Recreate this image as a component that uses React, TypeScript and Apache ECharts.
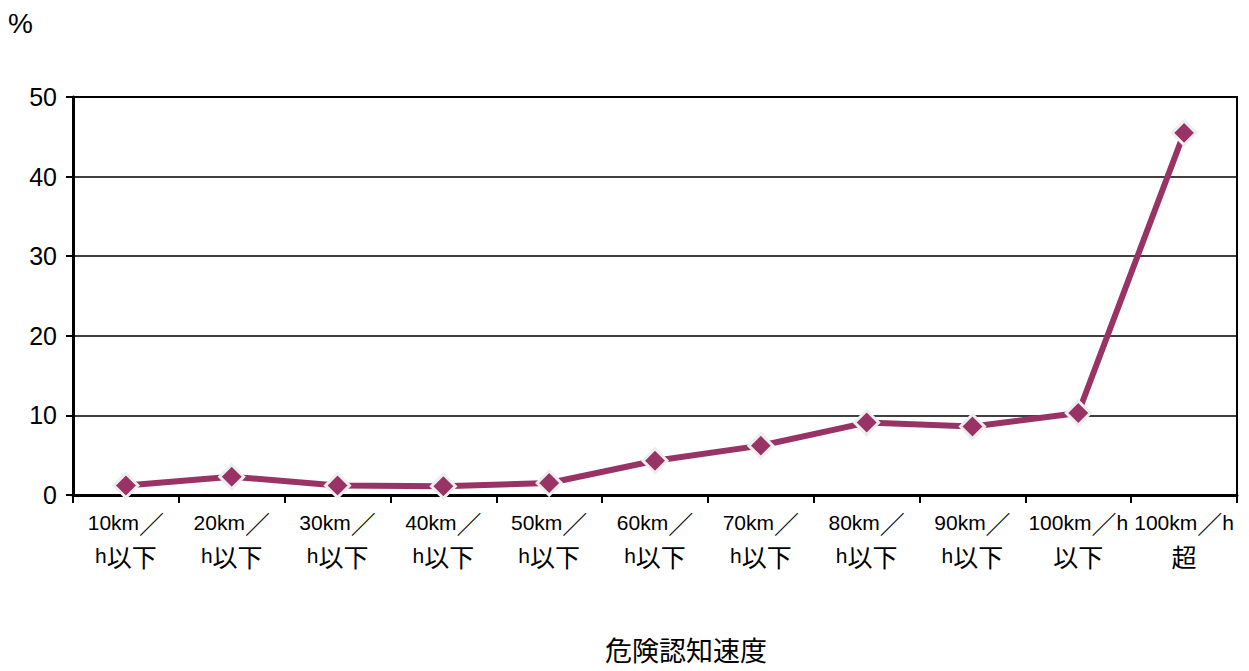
import React, { useEffect, useRef } from "react";
import * as echarts from "echarts";

const categories = [
  "10km／\nh以下",
  "20km／\nh以下",
  "30km／\nh以下",
  "40km／\nh以下",
  "50km／\nh以下",
  "60km／\nh以下",
  "70km／\nh以下",
  "80km／\nh以下",
  "90km／\nh以下",
  "100km／h\n以下",
  "100km／h\n超",
];
const values = [1.2, 2.3, 1.2, 1.1, 1.5, 4.3, 6.2, 9.1, 8.6, 10.3, 45.5];
const yTicks = { min: 0, max: 50, interval: 10 };
const yUnit = "%";
const xTitle = "危険認知速度";

const FONT = "'Liberation Sans', 'Noto Sans CJK JP', sans-serif";
const CJK = "'Noto Sans CJK JP', sans-serif";

function richLabel(s: string): string {
  return s
    .split("\n")
    .map((line) => line.replace(/([\u3000-\u9fff\uff00-\uffef]+)/g, "{j|$1}"))
    .join("\n");
}

export default function App() {
  const ref = useRef<HTMLDivElement>(null);
  useEffect(() => {
    if (!ref.current) return;
    const chart = echarts.init(ref.current, null, { renderer: "svg" });
    chart.setOption({
      animation: false,
      backgroundColor: "#ffffff",
      grid: {
        left: 73,
        right: 12,
        top: 97,
        bottom: 176,
        outerBoundsMode: "none",
        containLabel: false,
        show: true,
        borderColor: "#000",
        borderWidth: 2,
        backgroundColor: "transparent",
      },
      graphic: [
        {
          type: "text",
          left: 8,
          top: 9,
          style: { text: yUnit, font: `28px ${FONT}`, fill: "#000" },
        },
      ],
      xAxis: {
        type: "category",
        data: categories,
        boundaryGap: true,
        name: xTitle,
        nameLocation: "middle",
        nameGap: 141,
        nameTextStyle: {
          fontSize: 27,
          lineHeight: 27,
          color: "#000",
          fontFamily: CJK,
          padding: [0, 0, 0, 62],
        },
        axisLine: { lineStyle: { color: "#000", width: 3 } },
        axisTick: { show: true, alignWithLabel: false, length: 8, lineStyle: { color: "#000", width: 2 } },
        axisLabel: {
          interval: 0,
          color: "#000",
          fontSize: 21,
          lineHeight: 33,
          margin: 11,
          fontFamily: FONT,
          formatter: (v: string) => richLabel(v),
          rich: {
            j: { fontSize: 25, fontFamily: CJK, color: "#000", lineHeight: 33 },
          },
        },
      },
      yAxis: {
        type: "value",
        min: yTicks.min,
        max: yTicks.max,
        interval: yTicks.interval,
        axisLine: { show: true, lineStyle: { color: "#000", width: 3 } },
        axisTick: { show: true, length: 7, lineStyle: { color: "#000", width: 2 } },
        splitLine: { show: true, lineStyle: { color: "#000", width: 1.5 } },
        axisLabel: { color: "#000", fontSize: 25, margin: 16, fontFamily: FONT },
      },
      series: [
        {
          type: "line",
          data: values,
          symbol: "diamond",
          symbolSize: 24,
          lineStyle: { color: "#993366", width: 6 },
          itemStyle: { color: "#993366", borderColor: "#eeeeee", borderWidth: 3 },
          z: 5,
        },
      ],
    });
    return () => chart.dispose();
  }, []);
  return <div ref={ref} style={{ width: 1249, height: 671, position: "absolute", left: 0, top: 0 }} />;
}
